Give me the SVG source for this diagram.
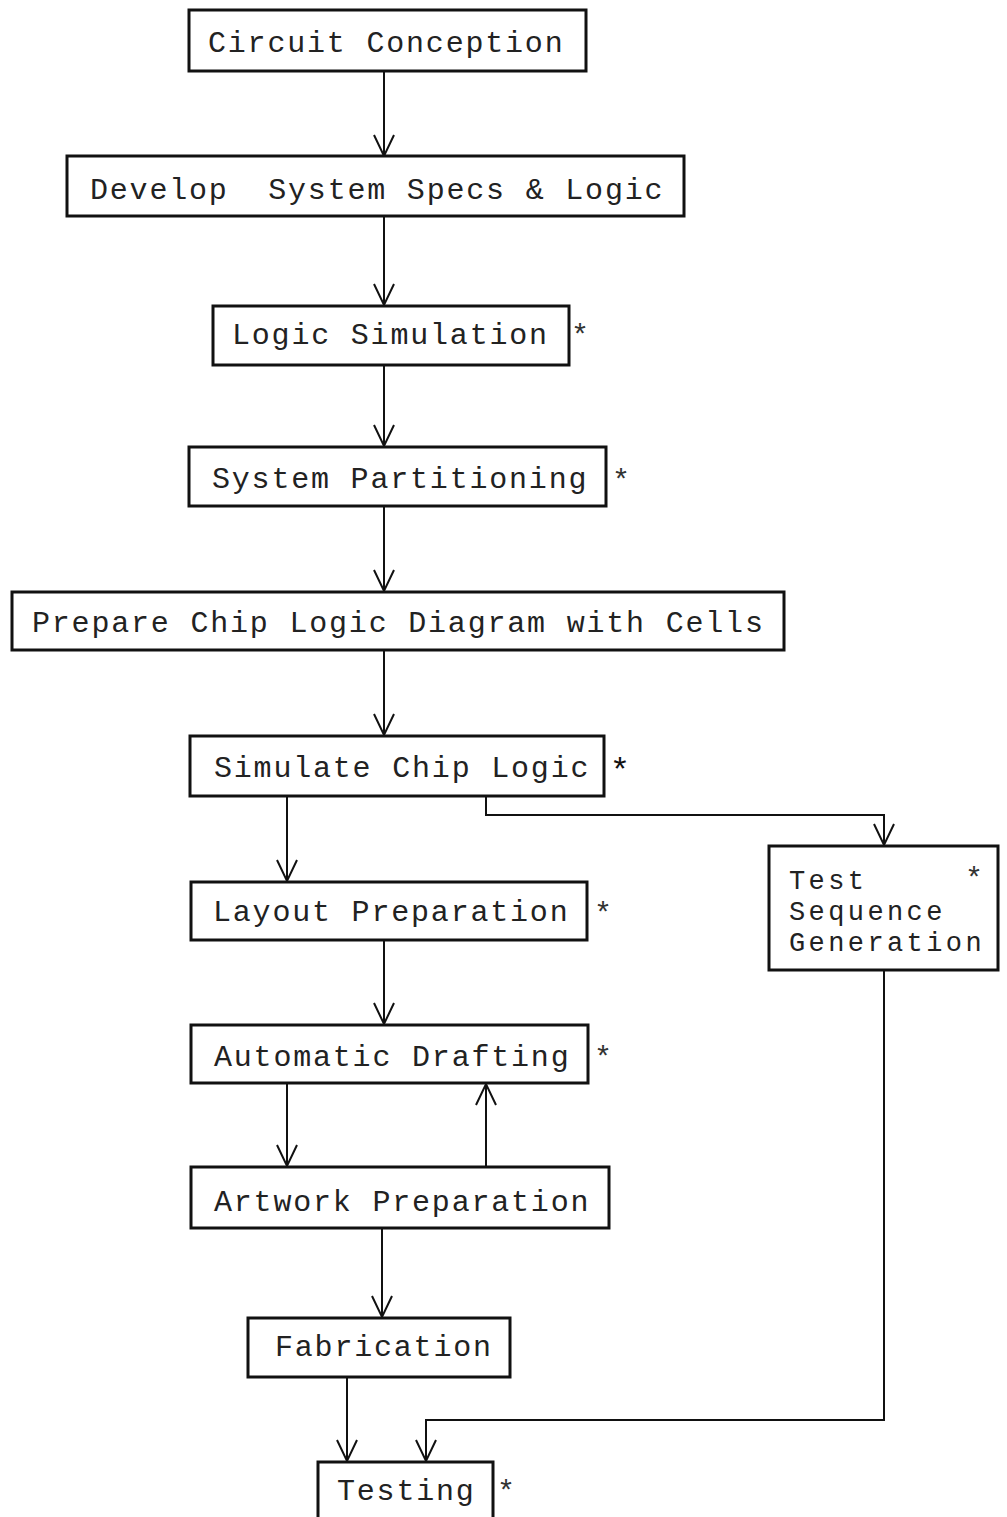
<svg xmlns="http://www.w3.org/2000/svg" width="1007" height="1517" viewBox="0 0 1007 1517">
  <style>
    .box { fill: #ffffff; stroke: #111111; stroke-width: 3; }
    .lbl { font-family: "Liberation Mono", "DejaVu Sans Mono", monospace; font-size: 30px; letter-spacing: 1.8px; fill: #222222; }
    .small { font-size: 27px; letter-spacing: 3.4px; }
    .star { font-family: "Liberation Mono", "DejaVu Sans Mono", monospace; font-size: 30px; fill: #333333; text-anchor: middle; }
    .big { font-size: 34px; fill: #111111; }
    .wire { fill: none; stroke: #111111; stroke-width: 2; marker-end: url(#vee); }
  </style>
  <defs>
    <!-- open V arrowhead, typewriter style -->
    <marker id="vee" markerUnits="userSpaceOnUse" viewBox="-26 -13 28 26" markerWidth="28" markerHeight="26" refX="0" refY="0" orient="auto" overflow="visible">
      <path d="M-21,-10 L0,0 L-21,10" fill="none" stroke="#111111" stroke-width="2"/>
    </marker>
  </defs>
  <rect width="1007" height="1517" fill="#ffffff"/>

  <g id="connectors">
    <path class="wire" d="M384,71 V156"/>
    <path class="wire" d="M384,216 V305"/>
    <path class="wire" d="M384,365 V446"/>
    <path class="wire" d="M384,506 V591"/>
    <path class="wire" d="M384,650 V735"/>
    <path class="wire" d="M287,796 V881"/>
    <path class="wire" d="M486,796 V815 H884 V845"/>
    <path class="wire" d="M384,940 V1024"/>
    <path class="wire" d="M287,1083 V1166"/>
    <path class="wire" d="M486,1167 V1084"/>
    <path class="wire" d="M382,1228 V1317"/>
    <path class="wire" d="M347,1377 V1461"/>
    <path class="wire" d="M884,970 V1420 H426 V1461"/>
  </g>

  <g id="circuit-conception">
    <rect class="box" x="189" y="10" width="397" height="61"/>
    <text class="lbl" x="208" y="52">Circuit Conception</text>
  </g>

  <g id="develop-specs">
    <rect class="box" x="67" y="156" width="617" height="60"/>
    <text class="lbl" x="90" y="199" xml:space="preserve">Develop  System Specs &amp; Logic</text>
  </g>

  <g id="logic-simulation">
    <rect class="box" x="213" y="306" width="356" height="59"/>
    <text class="lbl" x="232" y="344">Logic Simulation</text>
    <text class="star" x="580" y="345">*</text>
  </g>

  <g id="system-partitioning">
    <rect class="box" x="189" y="447" width="417" height="59"/>
    <text class="lbl" x="212" y="488">System Partitioning</text>
    <text class="star" x="621" y="490">*</text>
  </g>

  <g id="chip-logic-diagram">
    <rect class="box" x="12" y="592" width="772" height="58"/>
    <text class="lbl" x="32" y="632">Prepare Chip Logic Diagram with Cells</text>
  </g>

  <g id="simulate-chip-logic">
    <rect class="box" x="190" y="736" width="414" height="60"/>
    <text class="lbl" x="214" y="777">Simulate Chip Logic</text>
    <text class="star big" x="620" y="781">*</text>
  </g>

  <g id="layout-preparation">
    <rect class="box" x="191" y="882" width="396" height="58"/>
    <text class="lbl" x="213" y="921">Layout Preparation</text>
    <text class="star" x="603" y="923">*</text>
  </g>

  <g id="automatic-drafting">
    <rect class="box" x="191" y="1025" width="397" height="58"/>
    <text class="lbl" x="214" y="1066">Automatic Drafting</text>
    <text class="star" x="603" y="1067">*</text>
  </g>

  <g id="artwork-preparation">
    <rect class="box" x="191" y="1167" width="418" height="61"/>
    <text class="lbl" x="214" y="1211">Artwork Preparation</text>
  </g>

  <g id="fabrication">
    <rect class="box" x="248" y="1318" width="262" height="59"/>
    <text class="lbl" x="275" y="1356">Fabrication</text>
  </g>

  <g id="testing">
    <rect class="box" x="318" y="1462" width="175" height="58"/>
    <text class="lbl" x="337" y="1500">Testing</text>
    <text class="star" x="506" y="1501">*</text>
  </g>

  <g id="test-sequence-generation">
    <rect class="box" x="769" y="846" width="229" height="124"/>
    <text class="lbl small" x="789" y="889">Test</text>
    <text class="lbl small" x="789" y="920">Sequence</text>
    <text class="lbl small" x="789" y="951">Generation</text>
    <text class="star" x="974" y="888">*</text>
  </g>
</svg>
